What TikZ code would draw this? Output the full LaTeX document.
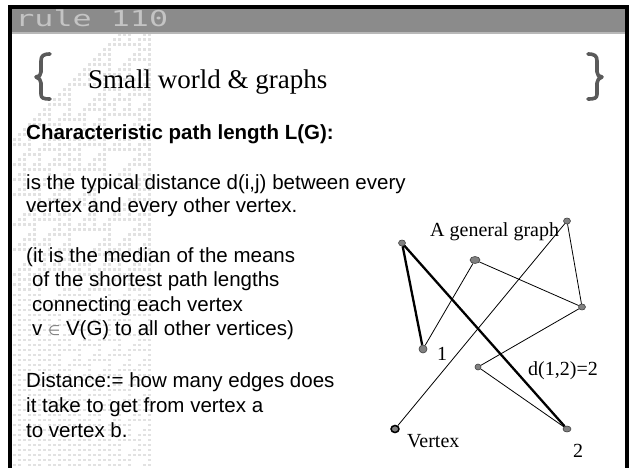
\documentclass[tikz,border=0pt]{standalone}
\usepackage{fontspec}
\setmainfont{Liberation Sans}
\newfontfamily\serifont{Liberation Serif}
\newfontfamily\hdrfont{DejaVu Sans Mono}
\newfontfamily\symfont{DejaVu Sans}
\usetikzlibrary{shapes.geometric}
\definecolor{hdrgray}{HTML}{8B8B8B}
\definecolor{hdrline}{HTML}{B8B8B8}
\definecolor{hdrtext}{HTML}{C4C4C4}
\definecolor{cagray}{HTML}{E2E2E2}
\definecolor{bracegray}{HTML}{5A5A5A}
\begin{document}
\begin{tikzpicture}[x=1bp,y=-1bp,
  body/.style={anchor=base west,inner sep=0pt,font=\fontsize{20.5bp}{24bp}\selectfont},
  lbl/.style={anchor=base west,inner sep=0pt,font=\serifont\fontsize{20bp}{24bp}\selectfont},
  vtx/.style={ellipse,draw=black!75,fill=black!50,line width=0.6bp,inner sep=0pt,minimum width=7bp,minimum height=6bp},
  edgethin/.style={line width=0.8bp},
  edgethick/.style={line width=2.3bp},
  bracestyle/.style={draw=bracegray,line width=3.6bp,line cap=round,line join=round}]
\useasboundingbox (0,0) rectangle (630,468);
\fill[white] (0,0) rectangle (630,468);
% rule 110 background pattern
\foreach \i in {0,...,28}{\expandafter\xdef\csname cs@\i\endcsname{0}}
\expandafter\xdef\csname cs@28\endcsname{1}
\foreach \row in {0,...,92}{
  \ifnum\row>5
    \foreach \i in {0,...,28}{
      \ifnum\csname cs@\i\endcsname=1
        \fill[cagray] (7.5+5*\i,3.5+5*\row) rectangle ++(3.2,2.6);
      \fi
    }
  \fi
  \foreach \i in {0,...,28}{
    \pgfmathtruncatemacro\il{\i-1}\pgfmathtruncatemacro\ir{\i+1}
    \edef\lv{\ifnum\il<0 0\else\csname cs@\il\endcsname\fi}
    \edef\rv{\ifnum\ir>28 0\else\csname cs@\ir\endcsname\fi}
    \edef\cv{\csname cs@\i\endcsname}
    \count255=\numexpr 4*\lv+2*\cv+\rv\relax
    \expandafter\xdef\csname ns@\i\endcsname{\ifcase\count255 0\or1\or1\or1\or0\or1\or1\or0\fi}
  }
  \foreach \i in {0,...,28}{\expandafter\xdef\csname cs@\i\endcsname{\csname ns@\i\endcsname}}
}
% header
\fill[hdrgray] (10,7) rectangle (627,32);
\fill[hdrline] (12,32) rectangle (625,34);
\node[anchor=base west,inner sep=0pt,text=hdrtext,font=\hdrfont\fontsize{19bp}{19bp}\selectfont,xscale=1.67,yscale=1.15] (hdr) at (15,27) {rule 110};
% frame
\draw[line width=4bp] (10,470) -- (10,7) -- (627,7) -- (627,470);
% braces
\draw[bracestyle] (50,54) .. controls (43,54) and (41,56) .. (41,61) -- (41,72) .. controls (41,75) and (39,77) .. (36,77) .. controls (39,78) and (41,80) .. (41,83) -- (41,94) .. controls (41,98) and (43,99) .. (50,99);
\draw[bracestyle] (588,54) .. controls (595,54) and (597,56) .. (597,61) -- (597,72) .. controls (597,75) and (599,77) .. (602,77) .. controls (599,78) and (597,80) .. (597,83) -- (597,94) .. controls (597,98) and (595,99) .. (588,99);
% title
\node[anchor=base west,inner sep=0pt,font=\serifont\fontsize{27bp}{31bp}\selectfont] (title) at (88,89) {Small world \& graphs};
% body text
\node[body,font=\bfseries\fontsize{20.5bp}{24bp}\selectfont] (t1) at (26,140) {Characteristic path length L(G):};
\node[body] (t2) at (26,190) {is the typical distance d(i,j) between every};
\node[body] (t3) at (26,213) {vertex and every other vertex.};
\node[body] (t4) at (26,263) {(it is the median of the means};
\node[body] (t5) at (32,287) {of the shortest path lengths};
\node[body] (t6) at (32,312) {connecting each vertex};
\node[body] (t7) at (32,335) {v {\symfont\color{black!50}\fontsize{14bp}{14bp}\selectfont ∈} V(G) to all other vertices)};
\node[body] (t8) at (26,387) {Distance:= how many edges does};
\node[body] (t9) at (26,412) {it take to get from vertex a};
\node[body] (t10) at (26,437) {to vertex b.};
% graph
\node[vtx] (A) at (402,243) {};
\node[vtx,minimum width=10bp,minimum height=7bp] (B) at (475,260) {};
\node[vtx] (C) at (567,221) {};
\node[vtx] (D) at (582,307) {};
\node[vtx,minimum width=8bp,minimum height=8bp] (E) at (423,349) {};
\node[vtx,minimum width=6bp,minimum height=6bp] (F) at (478,367) {};
\node[vtx,draw=black,line width=1.5bp,minimum width=8bp,minimum height=7bp] (G) at (395,429) {};
\node[vtx,minimum width=8bp,minimum height=6bp] (H) at (567,429) {};
\draw[edgethin] (E) -- (B);
\draw[edgethin] (B) -- (D);
\draw[edgethin] (C) -- (D);
\draw[edgethin] (C) -- (G);
\draw[edgethin] (D) -- (F);
\draw[edgethin] (F) -- (H);
\draw[edgethick] (A) -- (E);
\draw[edgethick] (A) -- (H);
\node[lbl] (lg) at (430,237) {A general graph};
\node[lbl] (l1) at (437,360) {1};
\node[lbl] (ld) at (528,375) {d(1,2)=2};
\node[lbl] (lv) at (407,447) {Vertex};
\node[lbl] (l2) at (573,457) {2};
\end{tikzpicture}
\end{document}
